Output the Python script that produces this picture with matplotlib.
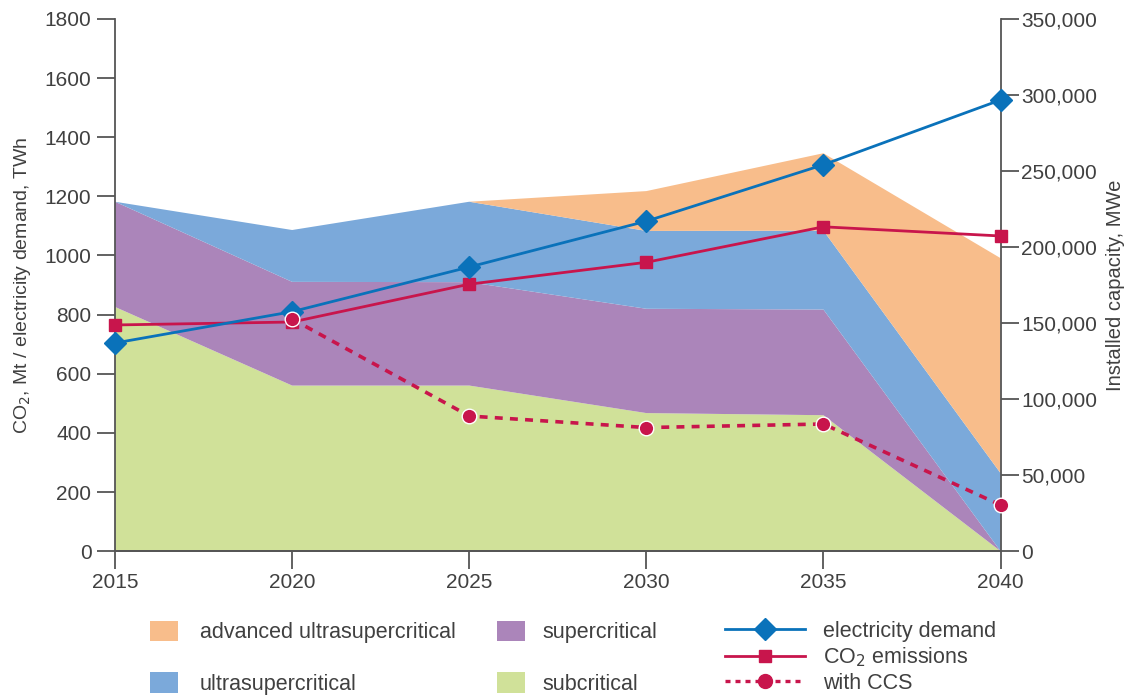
import matplotlib
matplotlib.use("Agg")
import matplotlib.pyplot as plt
from matplotlib.patches import Patch
from matplotlib.lines import Line2D

plt.rcParams['font.family'] = ['Liberation Sans', 'DejaVu Sans']

years = [2015, 2020, 2025, 2030, 2035, 2040]

# Installed capacity, MWe (right axis)
subcritical = [160600, 108900, 108900, 90800, 89400, 0]
supercritical = [69200, 68200, 68000, 68600, 69500, 0]
ultrasupercritical = [0, 34100, 52900, 51200, 51900, 51300]
advanced_usc = [0, 0, 0, 26200, 50900, 141400]

# Left axis: TWh / Mt
electricity_demand = [704, 810, 961, 1116, 1307, 1526]
co2_emissions = [765, 775, 903, 977, 1097, 1066]
ccs_years = [2020, 2025, 2030, 2035, 2040]
co2_with_ccs = [785, 457, 418, 430, 156]

left_ticks = [0, 200, 400, 600, 800, 1000, 1200, 1400, 1600, 1800]
right_ticks = [0, 50000, 100000, 150000, 200000, 250000, 300000, 350000]

c_orange = '#F8BD8B'
c_blue = '#7BA9DA'
c_purple = '#AB85BA'
c_green = '#D0E199'
c_line_blue = '#0A72BA'
c_line_red = '#C8154C'
c_text = '#404040'
c_axis = '#555555'

fig = plt.figure(figsize=(11.28, 6.95), dpi=100)
ax = fig.add_axes([0.102, 0.207, 0.785, 0.7657])
ax2 = ax.twinx()
ax.set_zorder(ax2.get_zorder() + 1)
ax.patch.set_visible(False)

ax2.stackplot(years, subcritical, supercritical, ultrasupercritical, advanced_usc,
              colors=[c_green, c_purple, c_blue, c_orange], linewidth=0)

ax.plot(years, electricity_demand, color=c_line_blue, lw=2.0, marker='D',
        markersize=11, zorder=5, clip_on=False)
ax.plot(years, co2_emissions, color=c_line_red, lw=2.0, marker='s',
        markersize=9, zorder=4, clip_on=False)
ax.plot(ccs_years, co2_with_ccs, color=c_line_red, lw=2.6, ls=(0, (2.2, 2.0)),
        marker='o', markersize=10.5, markeredgecolor='white', markeredgewidth=1.0,
        zorder=6, clip_on=False)

ax.set_xlim(2015, 2040)
ax.set_ylim(0, 1800)
ax2.set_ylim(0, 350000)
ax.set_xticks(years)
ax.set_yticks(left_ticks)
ax2.set_yticks(right_ticks)
ax2.set_yticklabels([f"{v:,}" for v in right_ticks])

for a in (ax, ax2):
    a.spines['top'].set_visible(False)
    for s in ('left', 'right', 'bottom'):
        a.spines[s].set_color(c_axis)
        a.spines[s].set_linewidth(1.3)
    a.tick_params(colors=c_axis, labelcolor=c_text, labelsize=15,
                  length=13, width=1.3, direction='out')
ax2.spines['left'].set_visible(False)
ax.spines['right'].set_visible(False)
ax.tick_params(axis='y', pad=4)
ax.tick_params(axis='x', pad=3)
ax2.tick_params(axis='y', pad=2)

ax.set_ylabel('CO$_2$, Mt / electricity demand, TWh', fontsize=14,
              color=c_text, labelpad=8)
ax2.set_ylabel('Installed capacity, MWe', fontsize=14.5, color=c_text,
               rotation=90, labelpad=6)

fs = 15.5
h1 = [Patch(facecolor=c_orange, label='advanced ultrasupercritical'),
      Patch(facecolor=c_blue, label='ultrasupercritical')]
h2 = [Patch(facecolor=c_purple, label='supercritical'),
      Patch(facecolor=c_green, label='subcritical')]
h3 = [Line2D([], [], color=c_line_blue, lw=2, marker='D', markersize=11,
             label='electricity demand'),
      Line2D([], [], color=c_line_red, lw=2, marker='s', markersize=9,
             label='CO$_2$ emissions'),
      Line2D([], [], color=c_line_red, lw=2.4, ls=(0, (1.5, 1.5)), marker='o',
             markersize=10, label='with CCS')]

common = dict(frameon=False, fontsize=fs, labelcolor=c_text,
              loc='upper left', borderaxespad=0, borderpad=0)
l1 = fig.legend(handles=h1, bbox_to_anchor=(0.133, 0.107),
                handlelength=1.3, handleheight=1.1, handletextpad=1.0,
                labelspacing=1.35, **common)
l2 = fig.legend(handles=h2, bbox_to_anchor=(0.441, 0.107),
                handlelength=1.3, handleheight=1.1, handletextpad=0.8,
                labelspacing=1.35, **common)
l3 = fig.legend(handles=h3, bbox_to_anchor=(0.643, 0.107),
                handlelength=3.7, handletextpad=0.85,
                labelspacing=0.18, **common)

fig.savefig('out.png', dpi=100)
